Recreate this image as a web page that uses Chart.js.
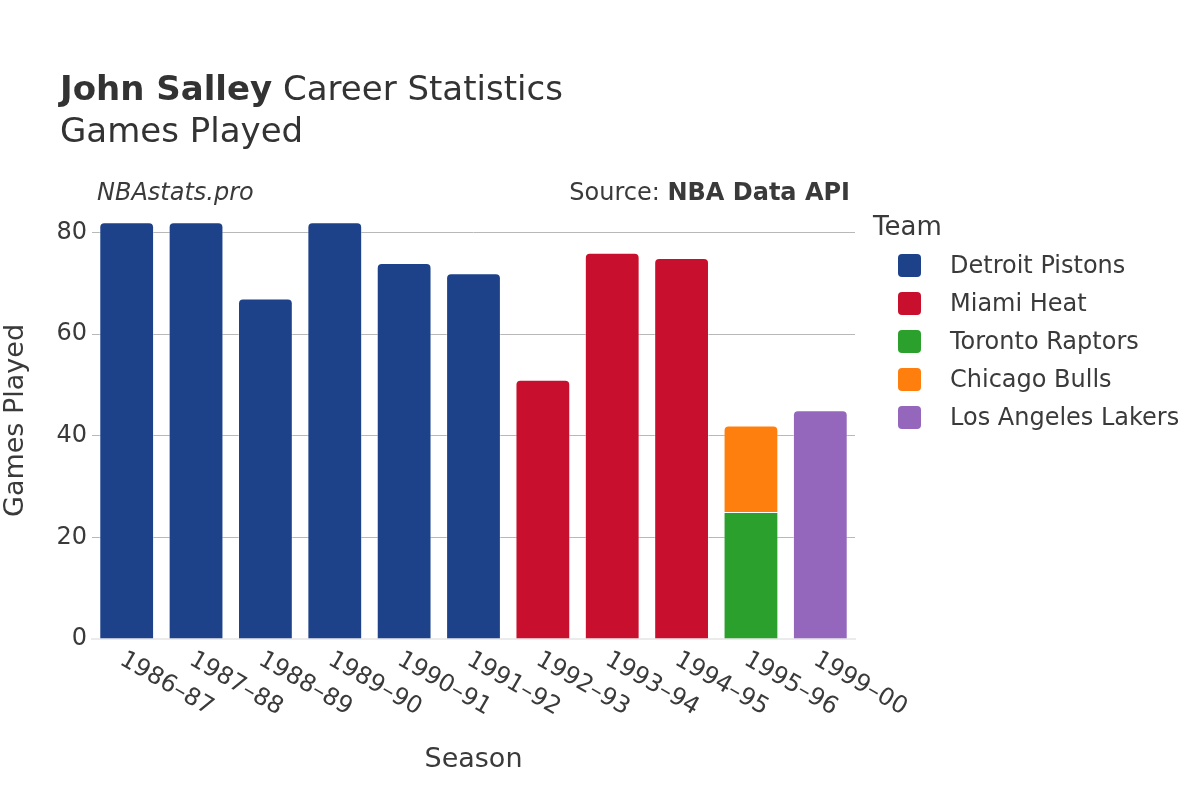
<!DOCTYPE html>
<html>
<head>
<meta charset="utf-8">
<script src="https://cdn.jsdelivr.net/npm/chart.js@4.4.1/dist/chart.umd.min.js"></script>
<style>
  html, body { margin: 0; padding: 0; background: #ffffff; }
  body { width: 1200px; height: 800px; position: relative; overflow: hidden; font-family: "DejaVu Sans", sans-serif; color: #3a3a3a; }
  #chartBox { position: absolute; left: 0; top: 0; width: 1200px; height: 800px; }
  .txt { position: absolute; white-space: nowrap; }
  .title { left: 60px; font-size: 34px; line-height: 34px; color: #333; }
  .note { top: 180px; font-size: 24px; line-height: 24px; color: #3a3a3a; }
  #legend { position: absolute; left: 873px; top: 213px; }
  #legend .head { font-size: 26px; line-height: 26px; margin-bottom: 7px; color: #3a3a3a; }
  #legend .row { height: 38px; display: flex; align-items: center; font-size: 24px; color: #3a3a3a; }
  #legend .sw { width: 23px; height: 23px; border-radius: 4px; margin-left: 25px; margin-right: 29px; }
</style>
</head>
<body>
<div id="chartBox"><canvas id="gamesChart" width="1200" height="800"></canvas></div>
<div class="txt title" style="top:71px"><b>John Salley</b> Career Statistics</div>
<div class="txt title" style="top:113px">Games Played</div>
<div class="txt note" style="left:97px"><i>NBAstats.pro</i></div>
<div class="txt note" style="right:350px">Source: <b>NBA Data API</b></div>
<div id="legend"><div class="head">Team</div></div>

<script>
// Data
const seasons = ['1986–87', '1987–88', '1988–89', '1989–90', '1990–91', '1991–92',
  '1992–93', '1993–94', '1994–95', '1995–96', '1999–00'];
const teams = ['Detroit Pistons', 'Miami Heat', 'Toronto Raptors', 'Chicago Bulls', 'Los Angeles Lakers'];
const teamColors = ['#1d428a', '#c8102e', '#2ca02c', '#ff7f0e', '#9467bd'];

const detroitGames = [82, 82, 67, 82, 74, 72, null, null, null, null, null];
const miamiGames   = [null, null, null, null, null, null, 51, 76, 75, null, null];
const torontoGames = [null, null, null, null, null, null, null, null, null, 25, null];
const chicagoGames = [null, null, null, null, null, null, null, null, null, 17, null];
const lakersGames  = [null, null, null, null, null, null, null, null, null, null, 45];

const yTicks = [0, 20, 40, 60, 80];

const teamGames = [detroitGames, miamiGames, torontoGames, chicagoGames, lakersGames];

// Build legend
const legend = document.getElementById('legend');
teams.forEach((team, i) => {
  const row = document.createElement('div');
  row.className = 'row';
  row.innerHTML = `<span class="sw" style="background:${teamColors[i]}"></span><span>${team}</span>`;
  legend.appendChild(row);
});

// Rotated season labels (clockwise, starting at the tick)
const seasonLabels = {
  id: 'seasonLabels',
  afterDraw(chart) {
    const ctx = chart.ctx;
    const xScale = chart.scales.x;
    ctx.save();
    ctx.font = '24px "DejaVu Sans"';
    ctx.fillStyle = '#3a3a3a';
    ctx.textAlign = 'left';
    ctx.textBaseline = 'middle';
    seasons.forEach((label, i) => {
      const x = xScale.getPixelForTick(i);
      ctx.save();
      ctx.translate(x - 5, xScale.top + 19);
      ctx.rotate(Math.PI / 6);
      ctx.fillText(label, 0, 0);
      ctx.restore();
    });
    ctx.restore();
  }
};

const datasets = teams.map((team, i) => ({
  label: team,
  data: teamGames[i],
  backgroundColor: teamColors[i],
  borderColor: 'rgba(255,255,255,0.35)',
  borderWidth: 1,
  borderRadius: team === 'Toronto Raptors' ? 0 : 5,
  borderSkipped: 'start',
  barPercentage: 0.79,
  categoryPercentage: 1
}));

new Chart(document.getElementById('gamesChart'), {
  type: 'bar',
  data: { labels: seasons, datasets: datasets },
  plugins: [seasonLabels],
  options: {
    responsive: false,
    animation: false,
    layout: { padding: { top: 202, right: 345, bottom: 0, left: 0 } },
    plugins: {
      legend: { display: false },
      tooltip: { enabled: false }
    },
    scales: {
      x: {
        stacked: true,
        grid: { display: false, drawTicks: false },
        border: { display: true, color: '#ebebeb', width: 2 },
        ticks: { display: false },
        title: {
          display: true,
          text: 'Season',
          color: '#3a3a3a',
          font: { family: 'DejaVu Sans', size: 27 },
          padding: { top: 0, bottom: 24 }
        },
        afterFit(scale) { scale.height = 161; }
      },
      y: {
        stacked: true,
        min: 0,
        max: 86,
        afterBuildTicks(scale) {
          scale.ticks = yTicks.map(v => ({ value: v }));
        },
        grid: {
          drawTicks: false,
          color: ctx => (ctx.tick && ctx.tick.value === 0) ? 'rgba(0,0,0,0)' : '#b8b8b8',
          lineWidth: 1
        },
        border: { display: false },
        ticks: {
          color: '#3a3a3a',
          font: { family: 'DejaVu Sans', size: 24 },
          padding: 5
        },
        title: {
          display: true,
          text: 'Games Played',
          color: '#3a3a3a',
          font: { family: 'DejaVu Sans', size: 27 },
          padding: { top: 0, bottom: 0 }
        },
        afterFit(scale) { scale.width = 92; }
      }
    }
  }
});
</script>
</body>
</html>
